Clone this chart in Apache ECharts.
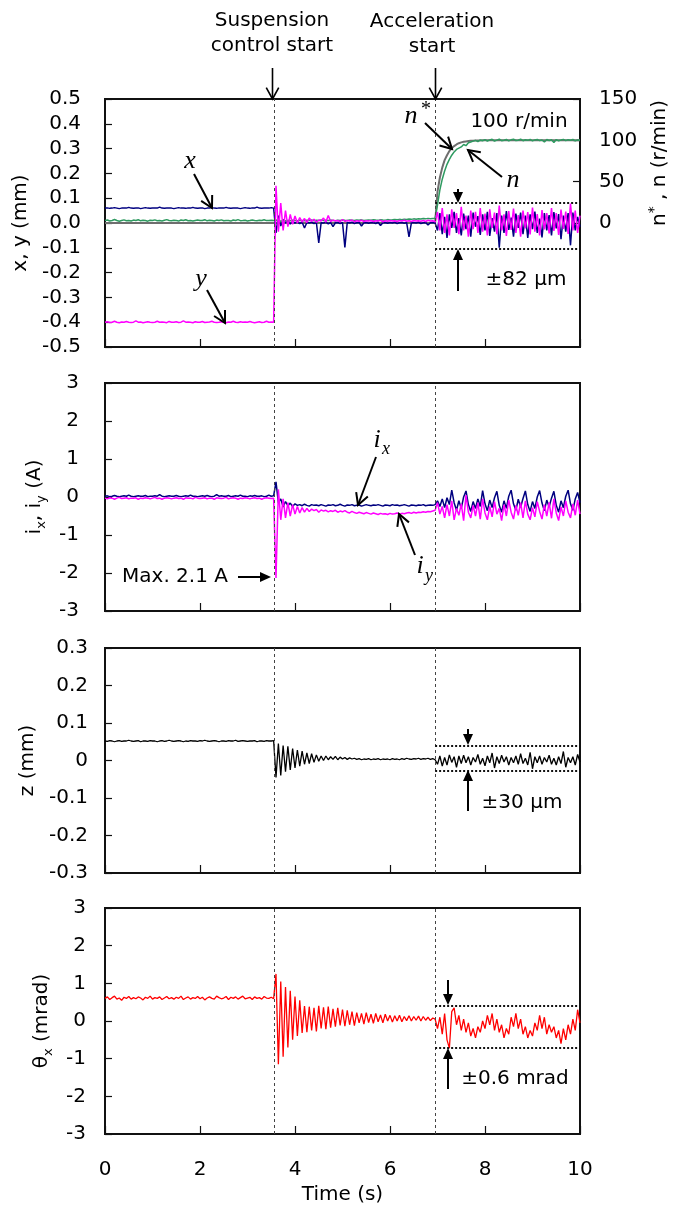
<!DOCTYPE html>
<html><head><meta charset="utf-8">
<script src="https://cdn.jsdelivr.net/npm/echarts@6/dist/echarts.min.js"></script>
<style>html,body{margin:0;padding:0;background:#fff}#c{width:674px;height:1211px}</style>
</head><body><div id="c"></div>
<script>
// ---------------- DATA ----------------
const timeS = [
0,0.05,0.1,0.15,0.2,0.25,0.3,0.35,0.4,0.45,0.5,0.55,0.6,0.65,0.7,0.75,0.8,0.85,0.9,0.95,
1,1.05,1.1,1.15,1.2,1.25,1.3,1.35,1.4,1.45,1.5,1.55,1.6,1.65,1.7,1.75,1.8,1.85,1.9,1.95,
2,2.05,2.1,2.15,2.2,2.25,2.3,2.35,2.4,2.45,2.5,2.55,2.6,2.65,2.7,2.75,2.8,2.85,2.9,2.95,
3,3.05,3.1,3.15,3.2,3.25,3.3,3.35,3.4,3.45,3.5,3.55,3.6,3.65,3.7,3.75,3.8,3.85,3.9,3.95,
4,4.05,4.1,4.15,4.2,4.25,4.3,4.35,4.4,4.45,4.5,4.55,4.6,4.65,4.7,4.75,4.8,4.85,4.9,4.95,
5,5.05,5.1,5.15,5.2,5.25,5.3,5.35,5.4,5.45,5.5,5.55,5.6,5.65,5.7,5.75,5.8,5.85,5.9,5.95,
6,6.05,6.1,6.15,6.2,6.25,6.3,6.35,6.4,6.45,6.5,6.55,6.6,6.65,6.7,6.75,6.8,6.85,6.9,6.95,
7,7.05,7.1,7.15,7.2,7.25,7.3,7.35,7.4,7.45,7.5,7.55,7.6,7.65,7.7,7.75,7.8,7.85,7.9,7.95,
8,8.05,8.1,8.15,8.2,8.25,8.3,8.35,8.4,8.45,8.5,8.55,8.6,8.65,8.7,8.75,8.8,8.85,8.9,8.95,
9,9.05,9.1,9.15,9.2,9.25,9.3,9.35,9.4,9.45,9.5,9.55,9.6,9.65,9.7,9.75,9.8,9.85,9.9,9.95,
10];

// x displacement (mm)
const xPos = [
0.060,0.061,0.059,0.060,0.062,0.060,0.058,0.060,0.061,0.060,
0.063,0.060,0.059,0.060,0.061,0.058,0.060,0.062,0.060,0.059,
0.060,0.061,0.060,0.064,0.060,0.059,0.060,0.061,0.060,0.058,
0.060,0.062,0.060,0.060,0.059,0.061,0.060,0.063,0.060,0.059,
0.060,0.061,0.058,0.060,0.060,0.062,0.060,0.059,0.061,0.060,
0.060,0.063,0.060,0.059,0.060,0.061,0.060,0.058,0.060,0.062,
0.060,0.059,0.061,0.060,0.064,0.060,0.059,0.060,0.061,0.060,
0.062,0.060,
-0.040,0.030,-0.012,0.015,0.000,0.010,-0.004,0.006,0.000,0.004,
-0.002,0.003,-0.020,0.002,0.000,0.003,-0.002,0.002,-0.080,0.001,
0.000,0.003,-0.003,0.002,-0.015,0.001,0.002,-0.002,0.002,-0.098,
0.002,0.000,0.003,-0.002,0.001,0.002,-0.012,0.001,0.002,-0.001,
0.002,0.001,-0.002,0.003,-0.010,0.001,0.002,-0.001,0.002,0.000,
0.003,-0.002,0.001,0.002,-0.001,0.002,-0.056,0.001,0.002,0.000,
0.003,-0.002,0.001,0.002,-0.008,0.001,0.002,
0.000,-0.030,0.040,-0.045,0.025,-0.060,0.035,-0.020,0.045,-0.040,
0.020,-0.050,0.038,-0.025,0.030,-0.055,0.042,-0.015,0.028,-0.048,
0.035,-0.030,0.045,-0.052,0.020,-0.035,0.040,-0.100,0.030,-0.040,
0.048,-0.028,0.022,-0.055,0.038,-0.020,0.042,-0.045,0.030,-0.060,
0.035,-0.025,0.046,-0.040,0.018,-0.058,0.040,-0.030,0.032,-0.050,
0.044,-0.022,0.036,-0.065,0.030,-0.035,0.040,-0.090,0.042,-0.030,
0.025,-0.015];

// y displacement (mm)
const yPos = [
-0.400,-0.398,-0.401,-0.400,-0.396,-0.400,-0.402,-0.399,-0.400,-0.397,
-0.400,-0.401,-0.400,-0.395,-0.400,-0.399,-0.402,-0.400,-0.398,-0.400,
-0.401,-0.400,-0.396,-0.400,-0.399,-0.400,-0.402,-0.397,-0.400,-0.400,
-0.398,-0.401,-0.400,-0.395,-0.400,-0.399,-0.400,-0.402,-0.398,-0.400,
-0.400,-0.397,-0.401,-0.400,-0.399,-0.396,-0.400,-0.401,-0.400,-0.398,
-0.400,-0.402,-0.399,-0.400,-0.396,-0.400,-0.401,-0.398,-0.400,-0.399,
-0.400,-0.397,-0.400,-0.402,-0.400,-0.398,-0.401,-0.400,-0.396,-0.400,
-0.399,-0.400,
0.150,-0.035,0.080,-0.030,0.050,-0.015,0.035,-0.005,0.028,0.000,
0.022,0.004,0.018,0.002,0.020,0.006,0.015,0.003,0.012,0.008,
0.020,0.004,0.030,0.006,0.012,0.008,0.010,0.005,0.014,0.006,
0.010,0.008,0.012,0.005,0.009,0.007,0.011,0.006,0.009,0.008,
0.010,0.006,0.009,0.008,0.011,0.005,0.009,0.007,0.010,0.008,
0.009,0.006,0.010,0.008,0.011,0.007,0.009,0.006,0.010,0.008,
0.009,0.007,0.010,0.006,0.011,0.008,0.009,
0.005,0.045,-0.030,0.060,-0.040,0.035,-0.050,0.055,-0.020,0.040,
-0.045,0.065,-0.030,0.030,-0.055,0.050,-0.025,0.045,-0.040,0.060,
-0.035,0.038,-0.050,0.055,-0.020,0.042,-0.045,0.070,-0.030,0.035,
-0.052,0.048,-0.028,0.058,-0.040,0.032,-0.055,0.050,-0.022,0.044,
-0.046,0.062,-0.035,0.036,-0.050,0.052,-0.026,0.040,-0.042,0.060,
-0.032,0.040,-0.048,0.054,-0.024,0.046,-0.044,0.078,-0.030,0.050,
-0.040,0.030];

// speed reference n* (r/min)
const nRef = [
0,0,0,0,0,0,0,0,0,0,0,0,0,0,0,0,0,0,0,0,
0,0,0,0,0,0,0,0,0,0,0,0,0,0,0,0,0,0,0,0,
0,0,0,0,0,0,0,0,0,0,0,0,0,0,0,0,0,0,0,0,
0,0,0,0,0,0,0,0,0,0,0,0,0,0,0,0,0,0,0,0,
0,0,0,0,0,0,0,0,0,0,0,0,0,0,0,0,0,0,0,0,
0,0,0,0,0,0,0,0,0,0,0,0,0,0,0,0,0,0,0,0,
0,0,0,0,0,0,0,0,0,0,0,0,0,0,0,0,0,0,0,
0,38,55,67,76,82,87,90.5,93,95,96.5,97.5,98.2,98.7,99.1,99.4,99.6,99.7,99.8,99.9,100,
100,100,100,100,100,100,100,100,100,100,
100,100,100,100,100,100,100,100,100,100,
100,100,100,100,100,100,100,100,100,100,
100,100,100,100,100,100,100,100,100,100,
100];

// measured speed n (r/min)
const nAct = [
3.0,3.6,2.4,3.0,4.2,3.0,2.2,3.1,3.8,2.8,
3.0,2.4,3.5,3.0,4.0,2.6,3.2,3.0,2.2,3.4,
3.0,3.8,2.8,3.0,2.5,3.3,4.1,3.0,2.7,3.2,
3.0,2.3,3.6,3.0,3.9,2.8,3.1,2.5,3.0,3.5,
2.9,3.0,4.0,2.6,3.2,3.0,2.4,3.5,3.0,3.8,
2.7,3.1,3.0,2.3,3.6,3.0,4.1,2.8,3.0,3.3,
2.5,3.0,3.7,3.0,2.6,3.2,3.0,4.0,2.9,3.0,
3.4,3.0,
3.0,4.5,1.5,3.8,2.5,3.2,2.8,3.5,3.0,2.6,
3.3,3.0,2.7,3.4,3.0,3.6,2.8,3.2,3.0,3.5,
2.9,3.3,3.0,3.7,3.1,2.8,3.4,3.0,3.6,3.2,
3.0,3.5,3.3,2.9,3.6,3.2,3.8,3.1,3.4,3.7,
3.3,3.9,3.5,3.2,4.0,3.6,3.4,4.1,3.7,3.9,
4.2,3.8,4.4,4.0,4.6,4.2,4.8,4.4,5.0,4.6,
5.2,4.8,5.4,5.0,5.6,5.2,5.5,
5.5,22.0,40.0,53.0,63.0,71.0,77.0,82.0,86.0,89.0,90.5,92.0,95.0,93.5,97.0,98.0,99.0,100.0,98.5,100.5,99.5,
100.8,99.2,100.5,101.2,99.0,100.3,101.5,99.6,100.2,101.0,
99.4,100.6,101.3,99.8,100.1,101.4,99.5,100.7,100.0,101.2,
99.3,100.5,101.0,99.7,100.4,98.0,101.1,99.8,100.6,97.5,
100.9,99.5,100.3,101.2,99.6,100.8,100.1,101.0,99.4,100.5,
100.2];

// coil currents (A)
const iX = [
0.02,0.03,0.01,0.02,0.04,0.02,0.01,0.02,0.03,0.02,
0.05,0.02,0.01,0.02,0.03,0.02,0.02,0.04,0.01,0.02,
0.02,0.03,0.02,0.06,0.02,0.01,0.02,0.03,0.02,0.02,
0.04,0.02,0.01,0.02,0.03,0.02,0.05,0.02,0.02,0.01,
0.02,0.03,0.02,0.04,0.02,0.01,0.02,0.06,0.02,0.03,
0.02,0.02,0.04,0.01,0.02,0.03,0.02,0.05,0.02,0.02,
0.01,0.03,0.02,0.04,0.02,0.02,0.03,0.01,0.02,0.05,
0.02,0.03,
0.40,-0.15,-0.05,-0.26,-0.12,-0.23,-0.16,-0.25,-0.18,-0.22,
-0.20,-0.23,-0.19,-0.22,-0.24,-0.20,-0.22,-0.21,-0.23,-0.20,
-0.22,-0.24,-0.21,-0.22,-0.20,-0.23,-0.22,-0.19,-0.22,-0.24,
-0.21,-0.22,-0.20,-0.23,-0.22,-0.21,-0.24,-0.22,-0.20,-0.22,
-0.23,-0.21,-0.22,-0.20,-0.22,-0.24,-0.21,-0.22,-0.23,-0.20,
-0.22,-0.21,-0.23,-0.22,-0.20,-0.22,-0.24,-0.21,-0.22,-0.23,
-0.21,-0.22,-0.20,-0.23,-0.22,-0.21,-0.22,
-0.20,-0.10,-0.25,-0.05,-0.28,-0.02,-0.20,0.18,-0.15,-0.35,
-0.10,-0.30,0.00,0.16,-0.20,-0.38,-0.12,-0.30,-0.05,-0.25,
0.17,-0.18,-0.36,-0.08,-0.28,-0.02,0.15,-0.22,-0.40,-0.10,
-0.30,0.02,0.18,-0.18,-0.35,-0.06,-0.27,-0.04,0.16,-0.20,
-0.38,-0.12,-0.30,0.00,0.17,-0.16,-0.36,-0.08,-0.26,-0.03,
0.15,-0.22,-0.40,-0.10,-0.28,0.02,0.18,-0.18,-0.35,-0.05,
0.12,-0.15];

const iY = [
-0.03,-0.05,-0.02,-0.03,-0.06,-0.03,-0.01,-0.04,-0.03,-0.02,
-0.05,-0.03,-0.03,-0.02,-0.06,-0.03,-0.04,-0.02,-0.03,-0.05,
-0.03,-0.01,-0.04,-0.03,-0.06,-0.03,-0.02,-0.03,-0.05,-0.03,
-0.02,-0.04,-0.03,-0.06,-0.02,-0.03,-0.03,-0.05,-0.01,-0.03,
-0.04,-0.03,-0.02,-0.05,-0.03,-0.03,-0.06,-0.02,-0.03,-0.04,
-0.03,-0.01,-0.05,-0.03,-0.02,-0.03,-0.06,-0.03,-0.04,-0.02,
-0.03,-0.05,-0.03,-0.02,-0.04,-0.03,-0.06,-0.03,-0.02,-0.03,
-0.04,-0.03,
-2.13,0.20,-0.60,-0.05,-0.55,-0.15,-0.50,-0.20,-0.45,-0.25,
-0.42,-0.28,-0.40,-0.30,-0.38,-0.32,-0.36,-0.33,-0.40,-0.34,
-0.37,-0.35,-0.39,-0.36,-0.38,-0.35,-0.40,-0.37,-0.39,-0.36,
-0.40,-0.42,-0.38,-0.41,-0.43,-0.40,-0.42,-0.44,-0.41,-0.43,
-0.45,-0.42,-0.44,-0.46,-0.43,-0.45,-0.44,-0.46,-0.43,-0.45,
-0.44,-0.42,-0.45,-0.43,-0.44,-0.42,-0.41,-0.43,-0.40,-0.42,
-0.40,-0.41,-0.39,-0.40,-0.38,-0.39,-0.37,
-0.35,-0.15,-0.45,-0.25,-0.55,-0.20,-0.50,-0.10,-0.60,-0.30,
-0.48,-0.18,-0.62,0.05,-0.40,-0.55,-0.22,-0.50,-0.15,-0.58,
-0.05,-0.42,-0.60,-0.25,-0.52,-0.12,-0.45,-0.30,-0.62,-0.20,
-0.50,-0.08,-0.40,-0.58,-0.22,-0.48,-0.15,-0.55,-0.10,-0.45,
-0.60,-0.28,-0.52,-0.12,-0.38,-0.58,-0.20,-0.50,-0.14,-0.56,
-0.05,-0.42,-0.62,-0.26,-0.50,-0.10,-0.40,-0.55,-0.18,-0.48,
-0.08,-0.45];

// axial displacement z (mm)
const zPos = [
0.052,0.051,0.053,0.052,0.050,0.052,0.053,0.051,0.052,0.052,
0.054,0.052,0.051,0.052,0.053,0.050,0.052,0.052,0.051,0.053,
0.052,0.052,0.050,0.052,0.053,0.051,0.052,0.054,0.052,0.051,
0.052,0.053,0.052,0.050,0.052,0.051,0.053,0.052,0.052,0.051,
0.053,0.052,0.054,0.052,0.051,0.052,0.053,0.052,0.050,0.052,
0.052,0.051,0.053,0.052,0.052,0.054,0.051,0.052,0.053,0.052,
0.051,0.052,0.052,0.053,0.050,0.052,0.052,0.051,0.053,0.052,
0.052,0.053,
-0.045,0.045,-0.040,0.040,-0.030,0.038,-0.025,0.032,-0.020,0.028,
-0.015,0.025,-0.010,0.020,-0.008,0.018,-0.005,0.015,-0.002,0.012,
0.000,0.012,0.002,0.010,0.003,0.011,0.002,0.009,0.004,0.008,
0.003,0.007,0.004,0.006,0.003,0.005,0.002,0.004,0.003,0.005,
0.002,0.004,0.003,0.005,0.002,0.004,0.003,0.004,0.002,0.005,
0.003,0.004,0.002,0.005,0.003,0.006,0.004,0.003,0.005,0.004,
0.006,0.003,0.005,0.004,0.006,0.003,0.005,
0.002,-0.010,0.012,-0.015,0.008,-0.012,0.015,-0.005,0.010,-0.018,
0.012,-0.008,0.014,-0.006,0.010,-0.012,0.008,-0.004,0.016,-0.010,
0.006,-0.014,0.012,-0.006,0.020,-0.020,0.010,-0.008,0.014,-0.004,
0.010,-0.012,0.008,-0.006,0.012,-0.010,0.018,-0.008,0.006,-0.012,
0.022,-0.022,0.010,-0.006,0.012,-0.010,0.008,-0.004,0.014,-0.010,
0.006,-0.012,0.010,-0.008,0.024,-0.018,0.008,-0.006,0.010,-0.012,
0.016,-0.004];

// tilt angle theta_x (mrad)
const thetaX = [
0.60,0.64,0.57,0.62,0.66,0.58,0.61,0.55,0.63,0.60,
0.65,0.58,0.62,0.59,0.64,0.61,0.56,0.63,0.60,0.66,
0.58,0.62,0.60,0.64,0.57,0.61,0.65,0.59,0.62,0.58,
0.63,0.60,0.66,0.57,0.61,0.64,0.58,0.62,0.60,0.65,
0.59,0.63,0.56,0.61,0.64,0.60,0.58,0.66,0.62,0.59,
0.61,0.65,0.57,0.63,0.60,0.64,0.58,0.62,0.66,0.59,
0.61,0.63,0.57,0.64,0.60,0.62,0.58,0.65,0.61,0.60,
0.63,0.59,
1.25,-1.15,1.05,-0.95,0.90,-0.70,0.80,-0.50,0.65,-0.40,
0.55,-0.32,0.40,-0.30,0.38,-0.25,0.35,-0.28,0.40,-0.20,
0.36,-0.22,0.38,-0.18,0.32,-0.15,0.35,-0.12,0.30,-0.14,
0.28,-0.10,0.25,-0.12,0.22,-0.05,0.20,-0.08,0.22,-0.04,
0.18,-0.06,0.20,-0.02,0.16,-0.05,0.18,0.00,0.15,-0.03,
0.14,0.00,0.15,-0.02,0.12,0.01,0.14,0.00,0.12,0.02,
0.13,0.00,0.12,0.02,0.10,0.01,0.08,
0.05,-0.20,0.10,-0.35,0.20,-0.50,-0.72,0.25,0.35,-0.10,
0.15,-0.25,0.05,-0.30,-0.05,-0.40,-0.20,-0.45,-0.15,-0.30,
0.00,-0.20,0.15,-0.10,0.20,-0.25,0.05,-0.30,-0.10,-0.45,
-0.20,-0.35,0.10,-0.15,0.20,-0.20,0.05,-0.35,-0.15,-0.45,
-0.25,-0.40,-0.05,-0.25,0.15,-0.20,0.10,-0.35,-0.10,-0.30,
-0.15,-0.45,-0.25,-0.60,-0.20,-0.50,-0.10,-0.35,0.05,-0.25,
0.30,-0.05];

// event times (s) and dotted band limits per panel
const eventTimes = [3.57, 6.95];
const bandXY = [0.08, -0.105];     // mm
const bandZ = [0.04, -0.028];      // mm
const bandTheta = [0.4, -0.72];    // mrad
const speedTicks = [0, 50, 100, 150];

// ---------------- CHART ----------------
const all = {xPos, yPos, nRef, nAct, iX, iY, zPos, thetaX};
for (const k in all) if (all[k].length !== timeS.length) throw new Error(k + ' length ' + all[k].length);

const SANS = '"DejaVu Sans", Verdana, sans-serif';
const SERIF = '"Liberation Serif", "Times New Roman", serif';
const pairs = v => timeS.map((t, i) => [t, v[i]]);

const gridBoxes = [
  {top: 99, height: 248},
  {top: 383, height: 228},
  {top: 648, height: 225},
  {top: 908, height: 226}
];
const grid = gridBoxes.map(g => ({left: 105, width: 475, top: g.top, height: g.height,
  show: true, borderColor: '#111', borderWidth: 2, backgroundColor: 'transparent'}));

const xAxis = gridBoxes.map((g, k) => ({
  type: 'value', gridIndex: k, min: 0, max: 10, interval: 2,
  axisLine: {show: false, onZero: false}, splitLine: {show: false},
  axisTick: {show: true, inside: true, length: 8, lineStyle: {color: '#111', width: 1.2}},
  axisLabel: {show: k === 3, margin: 26, fontSize: 20, fontFamily: SANS, color: '#000'},
  name: k === 3 ? 'Time (s)' : '', nameLocation: 'middle', nameGap: 51,
  nameTextStyle: {fontSize: 20, fontFamily: SANS, color: '#000'}
}));

const subRich = {
  m: {fontSize: 20, fontFamily: SANS, color: '#000', lineHeight: 26},
  s: {fontSize: 13, fontFamily: SANS, color: '#000', lineHeight: 14, verticalAlign: 'bottom'}
};
function leftAxis(k, min, max, step, fmt, margin, name, gap) {
  return {
    type: 'value', gridIndex: k, min, max, interval: step,
    axisLine: {show: false, onZero: false}, splitLine: {show: false},
    axisTick: {show: true, inside: true, length: 7, lineStyle: {color: '#111', width: 1.2}},
    axisLabel: {margin, fontSize: 20, fontFamily: SANS, color: '#000', formatter: fmt},
    name, nameLocation: 'middle', nameGap: gap,
    nameTextStyle: {fontSize: 20, fontFamily: SANS, color: '#000', rich: subRich}
  };
}
const f1 = v => (Math.abs(v) < 1e-9 ? 0 : v).toFixed(1);
const f0 = v => String(Math.round(v));
const fz = v => Math.abs(v) < 1e-9 ? '0' : v.toFixed(1);

const yAxis = [
  leftAxis(0, -0.5, 0.5, 0.1, f1, 24, 'x, y (mm)', 66),
  {
    type: 'value', gridIndex: 0, position: 'right', min: -150, max: 150, interval: 50,
    axisLine: {show: false, onZero: false}, splitLine: {show: false},
    axisTick: {show: true, inside: true, length: 7, customValues: speedTicks, lineStyle: {color: '#111', width: 1.2}},
    axisLabel: {margin: 19, fontSize: 20, fontFamily: SANS, color: '#000', customValues: speedTicks,
      formatter: v => v < 0 ? '' : String(v)}
  },
  leftAxis(1, -3, 3, 1, f0, 26, '{m|i}{s|x}{m|, i}{s|y}{m| (A)}', 45),
  leftAxis(2, -0.3, 0.3, 0.1, fz, 17, 'z (mm)', 59),
  leftAxis(3, -3, 3, 1, f0, 19, '{m|θ}{s|x}{m| (mrad)}', 32)
];

const vLines = eventTimes.map(t => ({xAxis: t, lineStyle: {type: [3, 3], color: '#444', width: 1}}));
const dotted = {type: [2, 2], color: '#111', width: 2};
function band(lims) {
  return lims.map(v => [{coord: [eventTimes[1], v], lineStyle: dotted}, {coord: [10, v]}]);
}
function marks(extra) {
  return {symbol: ['none', 'none'], silent: true, animation: false, label: {show: false},
    emphasis: {disabled: true}, data: vLines.concat(extra)};
}
function line(name, xi, yi, data, color, width, extra, z) {
  const s = {type: 'line', name, xAxisIndex: xi, yAxisIndex: yi, data: pairs(data),
    showSymbol: false, symbol: 'none', lineStyle: {color, width}, z: z || 2,
    emphasis: {disabled: true}, animation: false};
  if (extra) s.markLine = marks(extra);
  return s;
}

const series = [
  line('n*', 0, 1, nRef, '#6e6e6e', 2, null, 1),
  line('x', 0, 0, xPos, '#000080', 1.5, band(bandXY), 2),
  line('n', 0, 1, nAct, '#2e9a60', 1.5, null, 3),
  line('y', 0, 0, yPos, '#ff00ff', 1.5, null, 4),
  line('ix', 1, 2, iX, '#000080', 1.5, [], 2),
  line('iy', 1, 2, iY, '#ff00ff', 1.5, null, 3),
  line('z', 2, 3, zPos, '#000000', 1.3, band(bandZ), 2),
  line('theta', 3, 4, thetaX, '#ff0000', 1.3, band(bandTheta), 2)
];

// ---------------- ANNOTATIONS ----------------
const G = [];
function txt(s, x, y, font, extra) {
  G.push({type: 'text', x, y, z: 100, silent: true,
    style: Object.assign({text: s, font, fill: '#000', align: 'center', verticalAlign: 'middle'}, extra || {})});
}
function openArrow(x1, y1, x2, y2, w) {
  const a = Math.atan2(y2 - y1, x2 - x1), h = 13, sp = 0.5;
  G.push({type: 'line', z: 100, silent: true, shape: {x1, y1, x2, y2}, style: {stroke: '#000', lineWidth: w || 1.6}});
  G.push({type: 'polyline', z: 100, silent: true, shape: {points: [
    [x2 - h * Math.cos(a - sp), y2 - h * Math.sin(a - sp)], [x2, y2],
    [x2 - h * Math.cos(a + sp), y2 - h * Math.sin(a + sp)]]},
    style: {stroke: '#000', lineWidth: w || 1.6, fill: null}});
}
function fillArrow(x1, y1, x2, y2) {
  const a = Math.atan2(y2 - y1, x2 - x1), h = 11, hw = 5;
  const bx = x2 - h * Math.cos(a), by = y2 - h * Math.sin(a);
  const px = -Math.sin(a) * hw, py = Math.cos(a) * hw;
  G.push({type: 'line', z: 100, silent: true, shape: {x1, y1, x2: bx, y2: by}, style: {stroke: '#000', lineWidth: 2}});
  G.push({type: 'polygon', z: 100, silent: true, shape: {points: [[x2, y2], [bx + px, by + py], [bx - px, by - py]]},
    style: {fill: '#000'}});
}
const F20 = '20px ' + SANS;
const IT = 'italic 26px ' + SERIF;
const ITs = 'italic 18px ' + SERIF;

txt('Suspension\ncontrol start', 272, 33, F20, {lineHeight: 25});
txt('Acceleration\nstart', 432, 34, F20, {lineHeight: 25});
openArrow(272.5, 68, 272.5, 99);
openArrow(435.5, 68, 435.5, 99);

txt('x', 190, 161, IT);
openArrow(194, 174, 212, 208, 2);
txt('y', 201, 279, IT);
openArrow(207, 290, 225, 323, 2);
txt('n', 411, 116, IT);
txt('*', 426, 110, '20px ' + SERIF);
openArrow(425, 123, 452, 149, 2);
txt('100 r/min', 519, 122, F20);
txt('n', 513, 180, IT);
openArrow(502, 177, 468, 150, 2);
fillArrow(458, 189, 458, 203);
fillArrow(458, 291, 458, 249);
txt('±82 μm', 526, 280, F20);

txt('i', 377, 440, IT);
txt('x', 386, 449, ITs);
openArrow(376, 457, 358, 505, 2);
txt('i', 420, 566, IT);
txt('y', 429, 576, ITs);
openArrow(415, 555, 399, 514, 2);
txt('Max. 2.1 A', 175, 577, F20);
fillArrow(238, 577, 271, 577);

fillArrow(468, 729, 468, 745);
fillArrow(468, 811, 468, 770);
txt('±30 μm', 522, 803, F20);

fillArrow(448, 980, 448, 1005);
fillArrow(448, 1089, 448, 1048);
txt('±0.6 mrad', 515, 1079, F20);

// right axis name (rotated)
G.push({type: 'text', x: 660, y: 163, rotation: Math.PI / 2, z: 100, silent: true,
  style: {text: '{m|n}{p|*}{m| , n (r/min)}', align: 'center', verticalAlign: 'middle',
    rich: {m: {fontSize: 20, fontFamily: SANS, fill: '#000', lineHeight: 26},
           p: {fontSize: 14, fontFamily: SANS, fill: '#000', lineHeight: 14, verticalAlign: 'top'}}}});

const chart = echarts.init(document.getElementById('c'), null, {renderer: 'canvas'});
chart.setOption({
  animation: false,
  backgroundColor: '#fff',
  textStyle: {fontFamily: SANS},
  grid, xAxis, yAxis, series, graphic: G
});
</script></body></html>
